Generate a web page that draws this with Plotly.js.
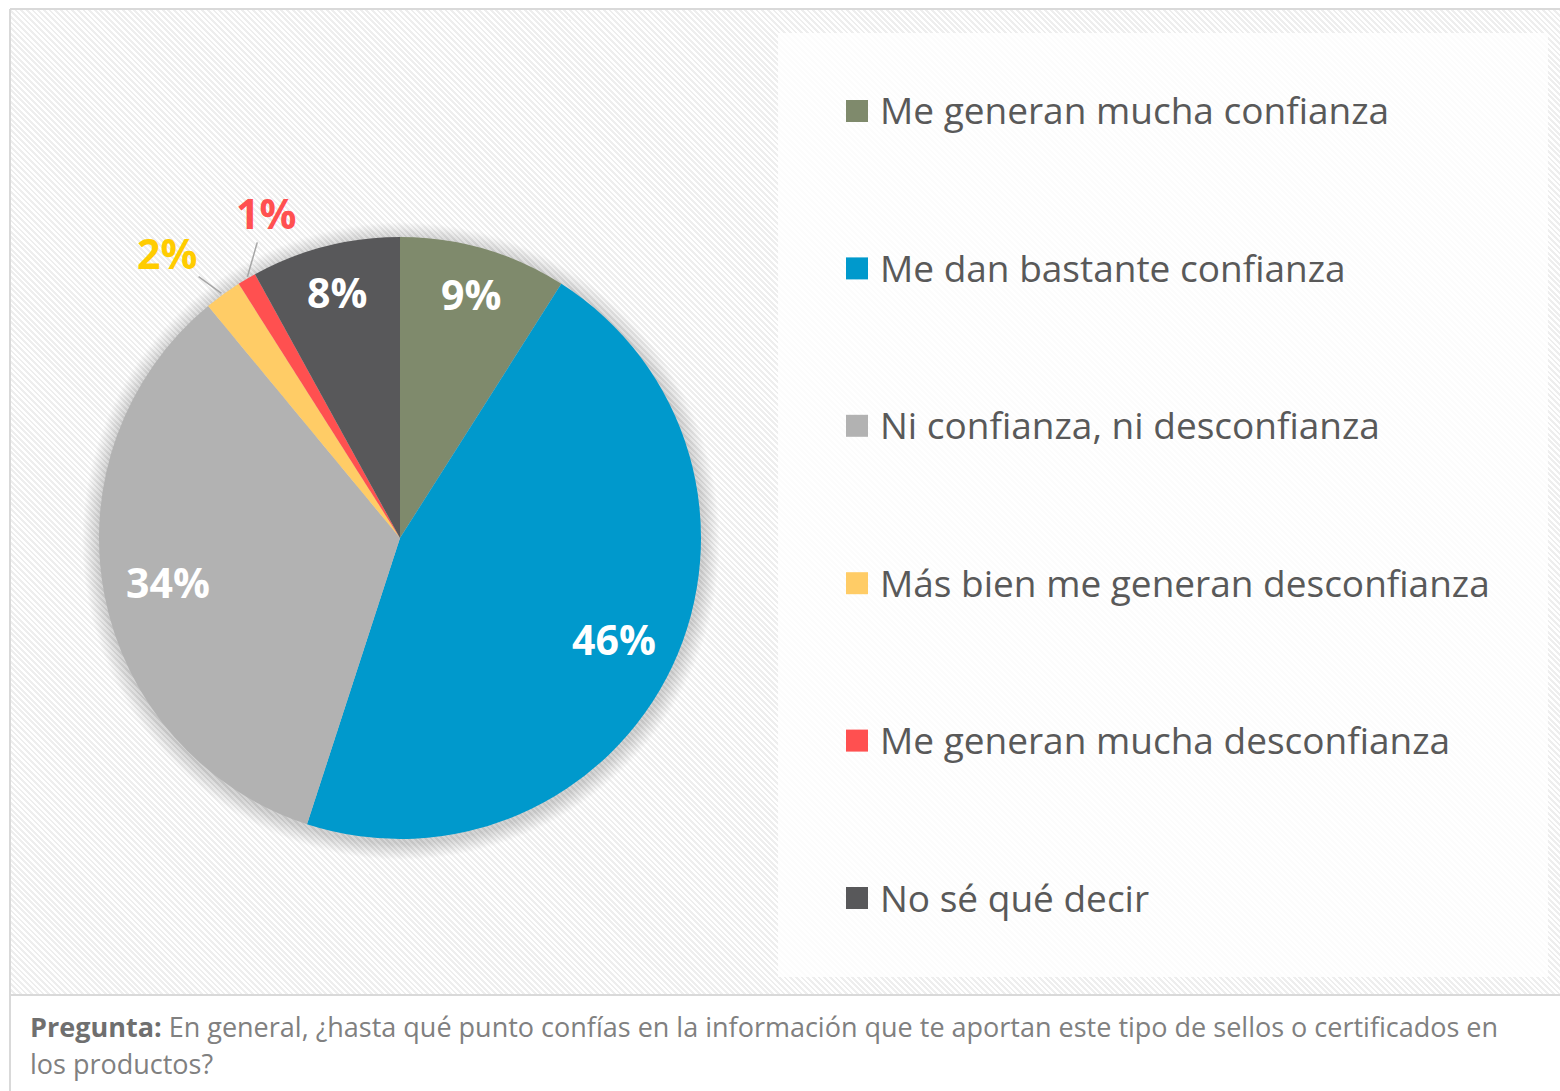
<!DOCTYPE html>
<html>
<head>
<meta charset="utf-8">
<script src="https://cdn.plot.ly/plotly-3.0.1.min.js"></script>
<style>
  body { margin: 0; background: #fff; }
  #wrap { position: relative; width: 1560px; height: 1091px; overflow: hidden; }
  #hatch {
    position: absolute; left: 11px; top: 10px; width: 1549px; height: 984px;
    background: repeating-linear-gradient(45deg, #ffffff 0px, #ffffff 2px, #eeeeee 2px, #eeeeee 4px);
  }
  #legbox {
    position: absolute; left: 778px; top: 33px; width: 770px; height: 944px;
    background: rgba(255, 255, 255, 0.82);
  }
  #myGraph { position: absolute; left: 0; top: 0; width: 1560px; height: 1091px; }
</style>
</head>
<body>
<div id="wrap">
  <div id="hatch"></div>
  <div id="legbox"></div>
  <div id="myGraph"></div>
</div>
<script>
// 資料
let categories = [
  "Me generan mucha confianza",
  "Me dan bastante confianza",
  "Ni confianza, ni desconfianza",
  "Más bien me generan desconfianza",
  "Me generan mucha desconfianza",
  "No sé qué decir"
];
let values = [9, 46, 34, 2, 1, 8];
let colors = ["#7f8a6c", "#0099cc", "#b2b2b2", "#ffcc66", "#ff5050", "#58585a"];
let labelColors = ["#ffffff", "#ffffff", "#ffffff", "#ffcc00", "#ff5050", "#ffffff"];
let captionLines = [
  "<b>Pregunta:</b> <span style='color:#808080'>En general, ¿hasta qué punto confías en la información que te aportan este tipo de sellos o certificados en</span>",
  "<span style='color:#808080'>los productos?</span>"
];

let W = 1560, H = 1091;
let px = x => x / W;
let py = y => 1 - y / H;

// 圓餅位置 (像素)
let cx = 400, cy = 538, R = 301;
let small = values.map(v => v < 5);

let trace1 = {
  type: "pie",
  labels: categories,
  values: values,
  sort: false,
  direction: "clockwise",
  rotation: 0,
  marker: { colors: colors, line: { width: 0 } },
  textinfo: "none",
  hoverinfo: "label+percent",
  showlegend: false,
  domain: { x: [px(cx - R), px(cx + R)], y: [py(cy + R), py(cy - R)] }
};

let shapes = [];
let annotations = [];

// 外框
shapes.push({ type: "line", xref: "paper", yref: "paper", x0: px(10), x1: 1, y0: py(9), y1: py(9), line: { color: "#d9d9d9", width: 2 } });
shapes.push({ type: "line", xref: "paper", yref: "paper", x0: px(10), x1: px(10), y0: py(9), y1: 0, line: { color: "#d9d9d9", width: 2 } });
shapes.push({ type: "line", xref: "paper", yref: "paper", x0: px(10), x1: 1, y0: py(995), y1: py(995), line: { color: "#d9d9d9", width: 2 } });

// 陰影
for (let k = 0; k < 14; k++) {
  let r = R + 2 + k * 1.2;
  shapes.push({
    type: "circle", layer: "below", xref: "paper", yref: "paper",
    xsizemode: "pixel", ysizemode: "pixel",
    xanchor: px(cx + 1), yanchor: py(cy + 3),
    x0: -r, x1: r, y0: -r, y1: r,
    fillcolor: "rgba(0,0,0,0.011)", line: { width: 0 }
  });
}

// 圖例
let legTop = 111, legStep = 157.4;
for (let i = 0; i < categories.length; i++) {
  let yc = legTop + i * legStep;
  shapes.push({
    type: "rect", xref: "paper", yref: "paper",
    x0: px(846), x1: px(868), y0: py(yc + 11), y1: py(yc - 11),
    fillcolor: colors[i], line: { width: 0 }
  });
  annotations.push({
    xref: "paper", yref: "paper", x: px(878), y: py(yc - 1),
    xanchor: "left", yanchor: "middle", showarrow: false,
    text: categories[i],
    font: { family: "Open Sans, sans-serif", size: 37, color: "#595959" }
  });
}

// 數據標籤
let total = values.reduce((a, b) => a + b, 0);
let cum = 0;
let offsets = { 3: [-56, -41], 4: [19, -66] };
for (let i = 0; i < values.length; i++) {
  let mid = (cum + values[i] / 2) / total * 2 * Math.PI;
  cum += values[i];
  let s = Math.sin(mid), c = Math.cos(mid);
  if (small[i]) {
    annotations.push({
      xref: "paper", yref: "paper", x: px(cx + R * s), y: py(cy - R * c),
      ax: offsets[i][0], ay: offsets[i][1],
      showarrow: true, arrowhead: 0, arrowwidth: 1.5, arrowcolor: "#a6a6a6", standoff: 2,
      text: "<b>" + values[i] + "%</b>",
      font: { family: "Open Sans, sans-serif", size: 41, color: labelColors[i] }
    });
  } else {
    let f = values[i] > 20 ? 0.785 : 0.845;
    annotations.push({
      xref: "paper", yref: "paper", x: px(cx + f * R * s), y: py(cy - f * R * c),
      xanchor: "center", yanchor: "middle", showarrow: false,
      text: "<b>" + values[i] + "%</b>",
      font: { family: "Open Sans, sans-serif", size: 41, color: labelColors[i] }
    });
  }
}

// 問題說明
captionLines.forEach((t, i) => {
  annotations.push({
    xref: "paper", yref: "paper", x: px(28), y: py(1026 + i * 37),
    xanchor: "left", yanchor: "middle", align: "left", showarrow: false,
    text: t,
    font: { family: "Open Sans, sans-serif", size: 27, color: "#6f6f6f" }
  });
});

let layout = {
  width: W,
  height: H,
  margin: { t: 0, r: 0, l: 0, b: 0 },
  paper_bgcolor: "rgba(0,0,0,0)",
  plot_bgcolor: "rgba(0,0,0,0)",
  shapes: shapes,
  annotations: annotations
};

Plotly.newPlot(document.getElementById("myGraph"), [trace1], layout, { displayModeBar: false });
</script>
</body>
</html>
